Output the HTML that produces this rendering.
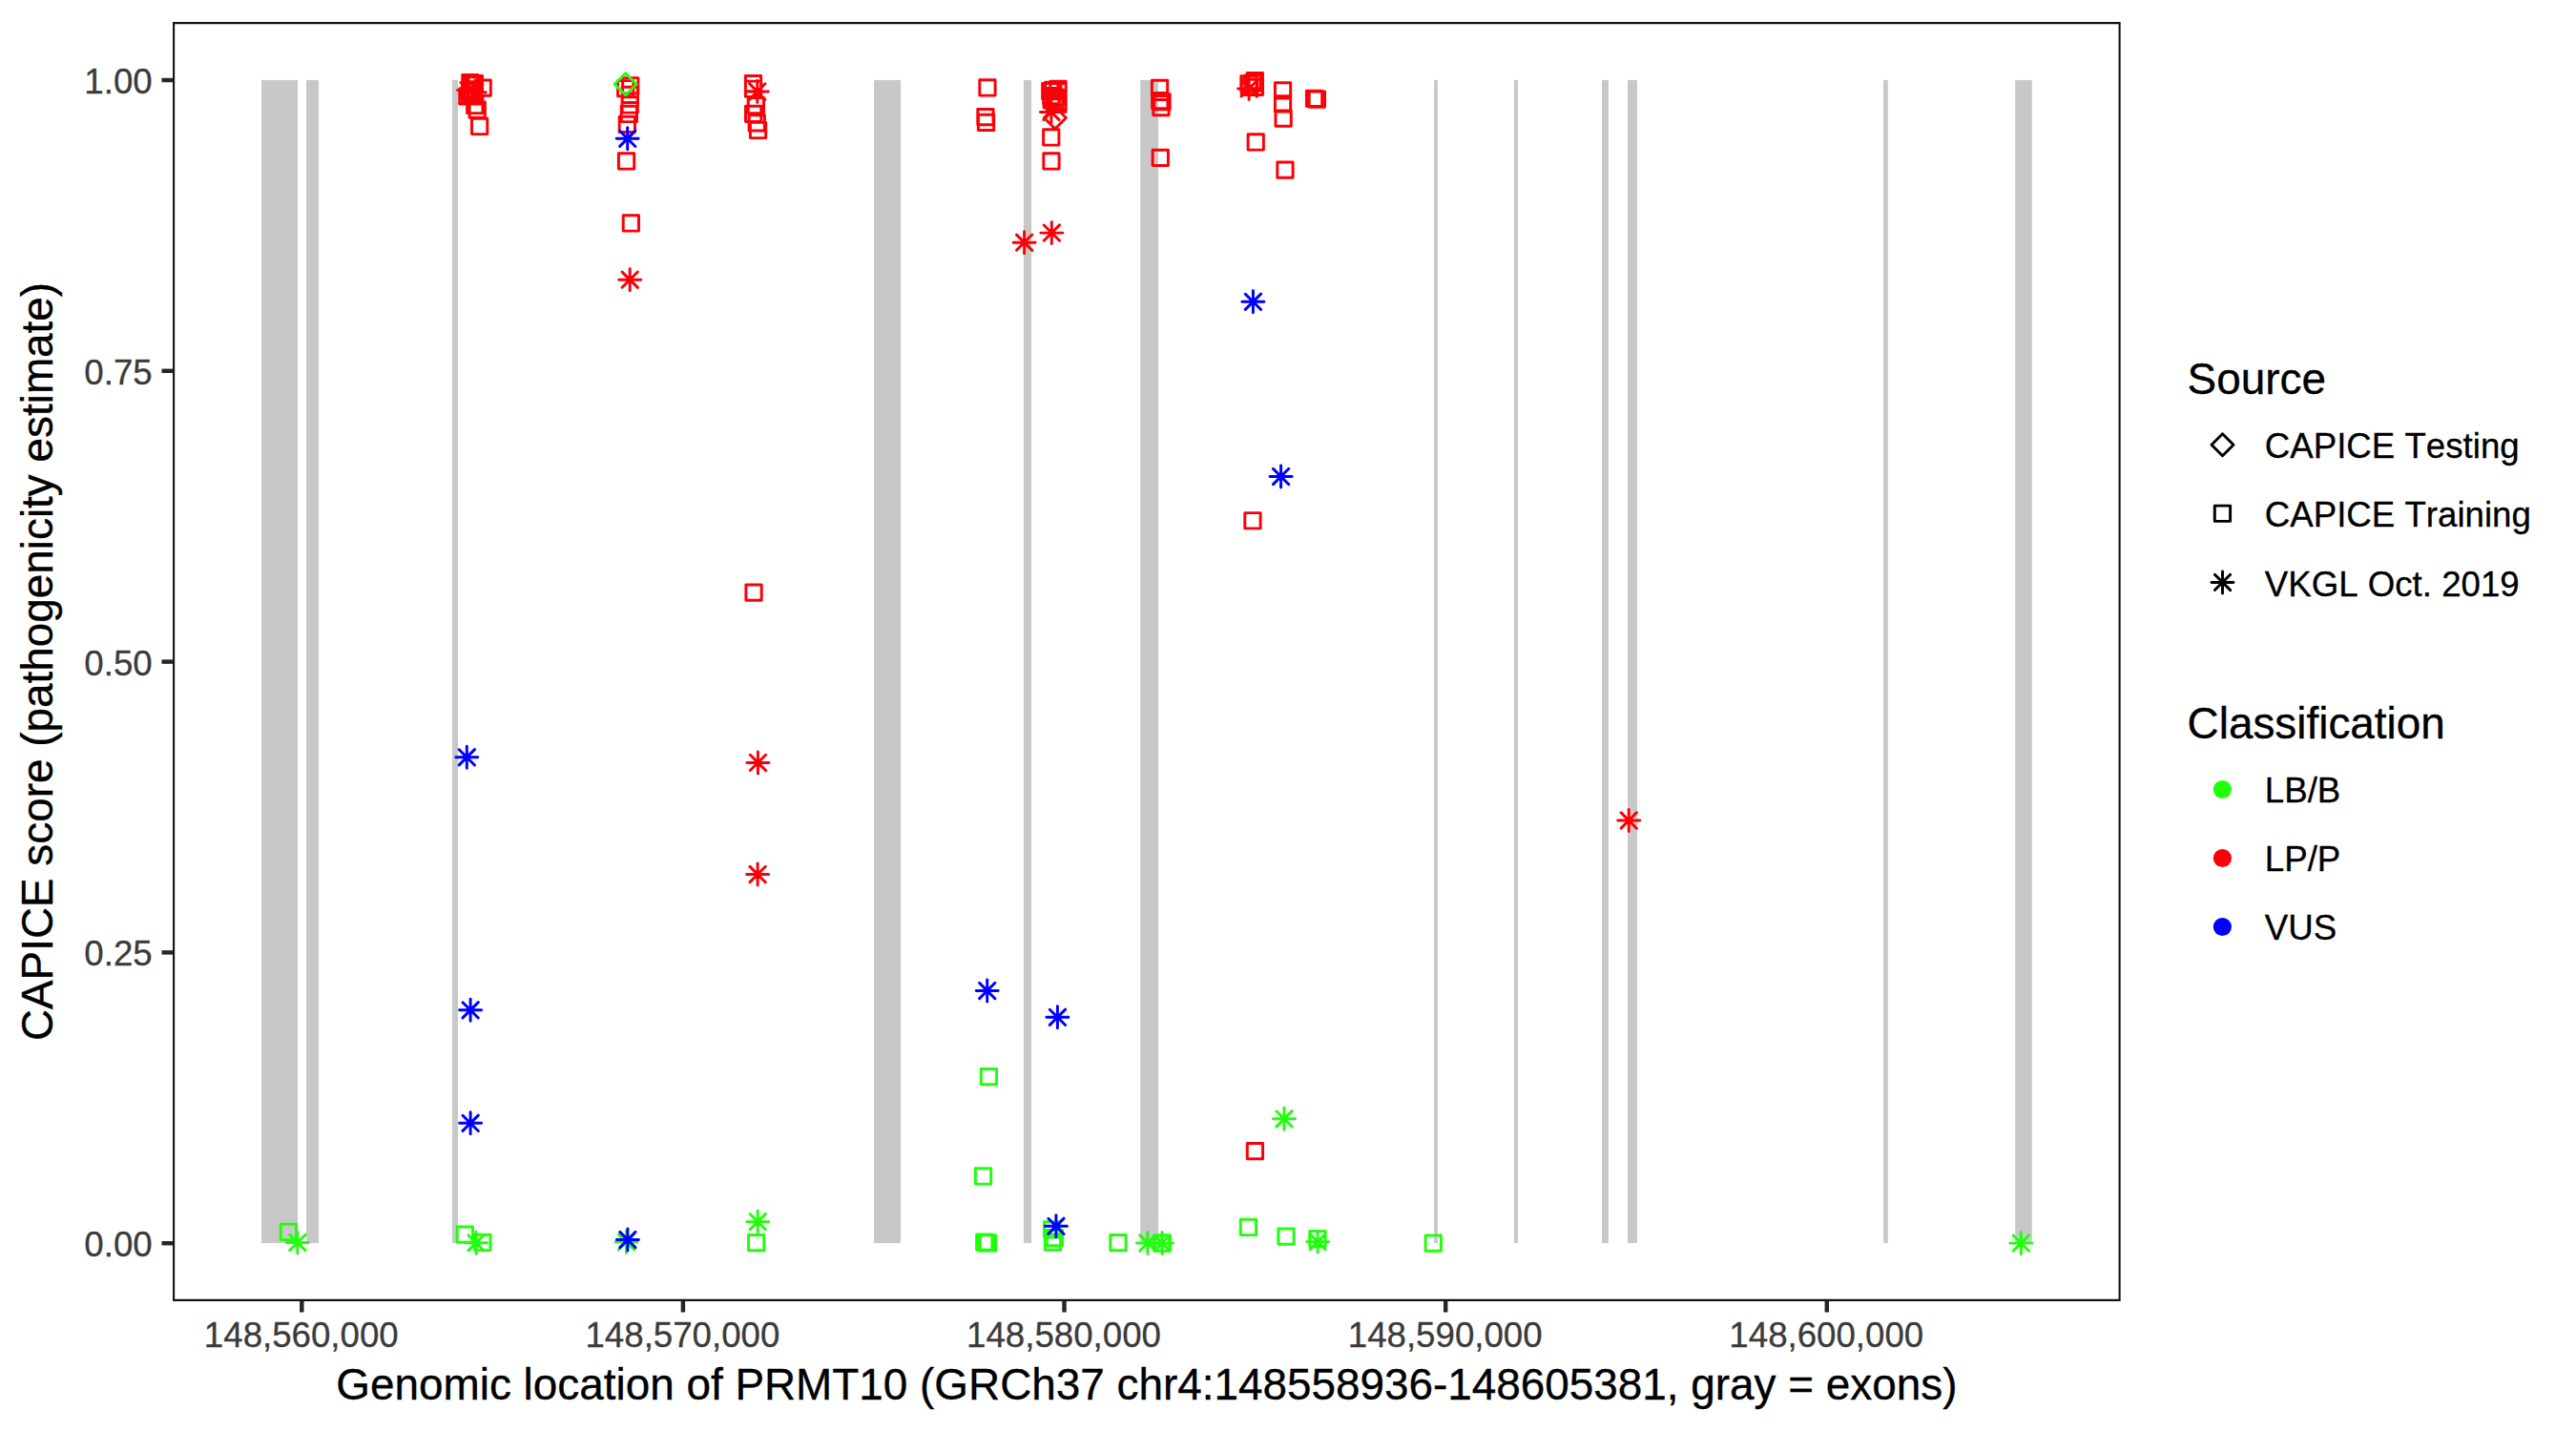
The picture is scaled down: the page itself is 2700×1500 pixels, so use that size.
<!DOCTYPE html>
<html lang="en"><head><meta charset="utf-8"><title>CAPICE score PRMT10</title>
<style>html,body{margin:0;padding:0;background:#fff}svg{display:block}text{font-family:"Liberation Sans",Arial,Helvetica,sans-serif;font-kerning:none;font-variant-ligatures:none}</style></head><body>
<svg width="2700" height="1500" viewBox="0 0 2700 1500">
<rect width="2700" height="1500" fill="#fff"/>
<g fill="#C8C8C8">
<rect x="274" y="83.9" width="38.1" height="1219.1"/>
<rect x="321" y="83.9" width="13.1" height="1219.1"/>
<rect x="474" y="83.9" width="6" height="1219.1"/>
<rect x="916.1" y="83.9" width="28" height="1219.1"/>
<rect x="1072.9" y="83.9" width="8.2" height="1219.1"/>
<rect x="1195.2" y="83.9" width="18.8" height="1219.1"/>
<rect x="1503.1" y="83.9" width="3.8" height="1219.1"/>
<rect x="1586.9" y="83.9" width="4.1" height="1219.1"/>
<rect x="1679" y="83.9" width="6.9" height="1219.1"/>
<rect x="1706" y="83.9" width="10" height="1219.1"/>
<rect x="1974.1" y="83.9" width="4.7" height="1219.1"/>
<rect x="2112.2" y="83.9" width="17.6" height="1219.1"/>
</g>
<g fill="none" stroke-width="2.95" stroke-linecap="round" stroke-linejoin="round">
<path stroke="#FC0008" d="M484.7 78.4h16.3v16.3h-16.3zM489.2 79.4h16.3v16.3h-16.3zM487.4 80.8h16.3v16.3h-16.3zM481.7 92.8h16.3v16.3h-16.3zM484.8 92.3h16.3v16.3h-16.3zM487.9 92.8h16.3v16.3h-16.3zM484.5 85.8h16.3v16.3h-16.3zM485.9 87.8h16.3v16.3h-16.3zM498 84h16.3v16.3h-16.3zM489.6 102.3h16.3v16.3h-16.3zM492.1 107h16.3v16.3h-16.3zM494.5 124.3h16.3v16.3h-16.3zM479.5 94.6h23M491 83.1v23M482.9 86.5l16.3 16.3M482.9 102.7l16.3 -16.3M486.2 96.7h23M497.7 85.2v23M489.6 88.6l16.3 16.3M489.6 104.8l16.3 -16.3M649.2 122.2h16.3v16.3h-16.3zM651.2 111.3h16.3v16.3h-16.3zM652.1 101.8h16.3v16.3h-16.3zM652.2 91.2h16.3v16.3h-16.3zM647.6 84.6h16.3v16.3h-16.3zM652.6 81.6h16.3v16.3h-16.3z"/>
<path stroke="#20FF0C" d="M644.2 88.3L655.7 76.8L667.2 88.3L655.7 99.8z"/>
<path stroke="#0000FF" d="M646.2 145.3h23M657.7 133.8v23M649.6 137.2l16.3 16.3M649.6 153.4l16.3 -16.3"/>
<path stroke="#FC0008" d="M648.4 160.8h16.3v16.3h-16.3zM653.2 225.8h16.3v16.3h-16.3zM648.7 293.2h23M660.2 281.7v23M652.1 285.1l16.3 16.3M652.1 301.3l16.3 -16.3M781.4 79.4h16.3v16.3h-16.3zM781.4 85.1h16.3v16.3h-16.3zM784.2 102.5h16.3v16.3h-16.3zM781.5 111.2h16.3v16.3h-16.3zM785.1 120.7h16.3v16.3h-16.3zM786.4 128.3h16.3v16.3h-16.3zM782.3 96h23M793.8 84.5v23M785.7 87.9l16.3 16.3M785.7 104.1l16.3 -16.3M781.9 613h16.3v16.3h-16.3zM782.9 799.4h23M794.4 787.9v23M786.3 791.3l16.3 16.3M786.3 807.5l16.3 -16.3M782.6 916.5h23M794.1 905v23M786 908.4l16.3 16.3M786 924.6l16.3 -16.3M1026.8 83.8h16.3v16.3h-16.3zM1024.8 114.4h16.3v16.3h-16.3zM1025.4 120.2h16.3v16.3h-16.3zM1092.6 87.5h16.3v16.3h-16.3zM1095.6 86.1h16.3v16.3h-16.3zM1100.9 85.3h16.3v16.3h-16.3zM1100.9 87.5h16.3v16.3h-16.3zM1093.6 92.4h16.3v16.3h-16.3zM1098 93.9h16.3v16.3h-16.3zM1100.9 97.8h16.3v16.3h-16.3zM1094.1 96.8h16.3v16.3h-16.3zM1100.8 101.1h16.3v16.3h-16.3zM1097.5 100.2h16.3v16.3h-16.3zM1094.4 123.5L1105.9 112L1117.4 123.5L1105.9 135zM1090.4 117.4h23M1101.9 105.9v23M1093.8 109.3l16.3 16.3M1093.8 125.5l16.3 -16.3M1093.6 135.8h16.3v16.3h-16.3zM1093.8 160.8h16.3v16.3h-16.3zM1062.1 254.2h23M1073.6 242.7v23M1065.5 246.1l16.3 16.3M1065.5 262.3l16.3 -16.3M1090.8 244.1h23M1102.3 232.6v23M1094.2 236l16.3 16.3M1094.2 252.2l16.3 -16.3M1207.4 84.3h16.3v16.3h-16.3zM1209.9 98.6h16.3v16.3h-16.3zM1207.6 97.5h16.3v16.3h-16.3zM1208.8 104.5h16.3v16.3h-16.3zM1208.1 157.2h16.3v16.3h-16.3zM1307.2 76.5h16.3v16.3h-16.3zM1300.8 79.8h16.3v16.3h-16.3zM1301.3 83.2h16.3v16.3h-16.3zM1307.2 83.2h16.3v16.3h-16.3zM1304.8 79h16.3v16.3h-16.3zM1297.6 92.9h23M1309.1 81.4v23M1301 84.8l16.3 16.3M1301 101l16.3 -16.3M1336.4 86.8h16.3v16.3h-16.3zM1336.4 100.8h16.3v16.3h-16.3zM1337 116h16.3v16.3h-16.3zM1308.1 140.8h16.3v16.3h-16.3zM1338.8 169.9h16.3v16.3h-16.3zM1369.4 95.2h16.3v16.3h-16.3zM1372.2 96h16.3v16.3h-16.3z"/>
<path stroke="#0000FF" d="M1301.9 316.3h23M1313.4 304.8v23M1305.3 308.2l16.3 16.3M1305.3 324.4l16.3 -16.3M1331.1 499.5h23M1342.6 488v23M1334.5 491.4l16.3 16.3M1334.5 507.6l16.3 -16.3"/>
<path stroke="#FC0008" d="M1304.8 537.6h16.3v16.3h-16.3zM1307.3 1198.5h16.3v16.3h-16.3zM1695.7 860h23M1707.2 848.5v23M1699.1 851.9l16.3 16.3M1699.1 868.1l16.3 -16.3"/>
<path stroke="#0000FF" d="M477.8 793.8h23M489.3 782.3v23M481.2 785.7l16.3 16.3M481.2 801.9l16.3 -16.3M481.6 1058.8h23M493.1 1047.3v23M485 1050.7l16.3 16.3M485 1066.9l16.3 -16.3M481.6 1177.3h23M493.1 1165.8v23M485 1169.2l16.3 16.3M485 1185.4l16.3 -16.3M1023.2 1038.5h23M1034.7 1027v23M1026.6 1030.4l16.3 16.3M1026.6 1046.6l16.3 -16.3M1096.9 1066.3h23M1108.4 1054.8v23M1100.3 1058.2l16.3 16.3M1100.3 1074.4l16.3 -16.3"/>
<path stroke="#20FF0C" d="M1028.3 1120.4h16.3v16.3h-16.3zM1022.4 1224.8h16.3v16.3h-16.3zM1334.5 1172.8h23M1346 1161.3v23M1337.9 1164.7l16.3 16.3M1337.9 1180.9l16.3 -16.3M294.2 1283.3h16.3v16.3h-16.3zM300.3 1302.4h23M311.8 1290.9v23M303.7 1294.3l16.3 16.3M303.7 1310.5l16.3 -16.3M479.2 1285.9h16.3v16.3h-16.3zM497.7 1294.3h16.3v16.3h-16.3zM487.5 1302.8h23M499 1291.3v23M490.9 1294.7l16.3 16.3M490.9 1310.9l16.3 -16.3M645 1301.8h23M656.5 1290.3v23M648.4 1293.7l16.3 16.3M648.4 1309.9l16.3 -16.3"/>
<path stroke="#0000FF" d="M646.4 1299.5h23M657.9 1288v23M649.8 1291.4l16.3 16.3M649.8 1307.6l16.3 -16.3"/>
<path stroke="#20FF0C" d="M782.7 1280.6h23M794.2 1269.1v23M786.1 1272.5l16.3 16.3M786.1 1288.7l16.3 -16.3M784.5 1294.4h16.3v16.3h-16.3zM1023.6 1294h16.3v16.3h-16.3zM1025.5 1294.6h16.3v16.3h-16.3zM1027.4 1294.8h16.3v16.3h-16.3zM1094.5 1280.8h16.3v16.3h-16.3zM1097.2 1289.5h16.3v16.3h-16.3zM1095.3 1294h16.3v16.3h-16.3z"/>
<path stroke="#0000FF" d="M1095.4 1285.3h23M1106.9 1273.8v23M1098.8 1277.2l16.3 16.3M1098.8 1293.4l16.3 -16.3"/>
<path stroke="#20FF0C" d="M1163.8 1294.4h16.3v16.3h-16.3zM1191.4 1303h23M1202.9 1291.5v23M1194.8 1294.9l16.3 16.3M1194.8 1311.1l16.3 -16.3M1209.6 1294.8h16.3v16.3h-16.3zM1210.2 1295h16.3v16.3h-16.3zM1206.5 1303h23M1218 1291.5v23M1209.9 1294.9l16.3 16.3M1209.9 1311.1l16.3 -16.3M1300.3 1278.3h16.3v16.3h-16.3zM1339.9 1288h16.3v16.3h-16.3zM1372.8 1290.5h16.3v16.3h-16.3zM1369.6 1301.6h23M1381.1 1290.1v23M1373 1293.5l16.3 16.3M1373 1309.7l16.3 -16.3M1494.1 1295h16.3v16.3h-16.3zM2106.8 1303.1h23M2118.3 1291.6v23M2110.2 1295l16.3 16.3M2110.2 1311.2l16.3 -16.3"/>
</g>
<path d="M182.1 24.1H2221.6V1362.9H182.1Z" fill="none" stroke="#111" stroke-width="2.1"/>
<g stroke="#262626" stroke-width="4.45">
<path d="M169.5 84H181"/>
<path d="M169.5 388.8H181"/>
<path d="M169.5 693.6H181"/>
<path d="M169.5 998.4H181"/>
<path d="M169.5 1303.2H181"/>
<path d="M316.3 1364V1375.5"/>
<path d="M715.9 1364V1375.5"/>
<path d="M1115.5 1364V1375.5"/>
<path d="M1515.2 1364V1375.5"/>
<path d="M1914.8 1364V1375.5"/>
</g>
<g fill="#3B3B3B" stroke="#3B3B3B" stroke-width="0.3" font-size="36.67px">
<text x="159.7" y="98" text-anchor="end">1.00</text>
<text x="159.7" y="402.8" text-anchor="end">0.75</text>
<text x="159.7" y="707.6" text-anchor="end">0.50</text>
<text x="159.7" y="1012.4" text-anchor="end">0.25</text>
<text x="159.7" y="1317.2" text-anchor="end">0.00</text>
<text x="315.8" y="1412" text-anchor="middle">148,560,000</text>
<text x="715.4" y="1412" text-anchor="middle">148,570,000</text>
<text x="1115" y="1412" text-anchor="middle">148,580,000</text>
<text x="1514.7" y="1412" text-anchor="middle">148,590,000</text>
<text x="1914.3" y="1412" text-anchor="middle">148,600,000</text>
</g>
<g fill="#000" stroke="#000" stroke-width="0.35" font-size="45.87px">
<text x="1201.9" y="1466.5" text-anchor="middle">Genomic location of PRMT10 (GRCh37 chr4:148558936-148605381, gray = exons)</text>
<text transform="translate(55 693.5) rotate(-90)" text-anchor="middle">CAPICE score (pathogenicity estimate)</text>
<text x="2292.6" y="412.9">Source</text>
<text x="2292.6" y="773.8">Classification</text>
</g>
<g fill="#000" stroke="#000" stroke-width="0.3" font-size="36.67px">
<text x="2373.8" y="480">CAPICE Testing</text>
<text x="2373.8" y="552.3">CAPICE Training</text>
<text x="2373.8" y="624.6">VKGL Oct. 2019</text>
<text x="2373.8" y="840.9">LB/B</text>
<text x="2373.8" y="913.2">LP/P</text>
<text x="2373.8" y="985.2">VUS</text>
</g>
<g fill="none" stroke="#000" stroke-width="2.95" stroke-linecap="round" stroke-linejoin="round">
<path d="M2318 466.2L2329.5 454.7L2341 466.2L2329.5 477.7z"/>
<path d="M2321.3 530.1h16.3v16.3h-16.3z"/>
<path d="M2318 610.4h23M2329.5 598.9v23M2321.4 602.3l16.3 16.3M2321.4 618.5l16.3 -16.3"/>
</g>
<circle cx="2329.4" cy="827.5" r="9.6" fill="#20FF0C"/>
<circle cx="2329.4" cy="899.5" r="9.6" fill="#FC0008"/>
<circle cx="2329.4" cy="971.5" r="9.6" fill="#0000FF"/>
</svg></body></html>
